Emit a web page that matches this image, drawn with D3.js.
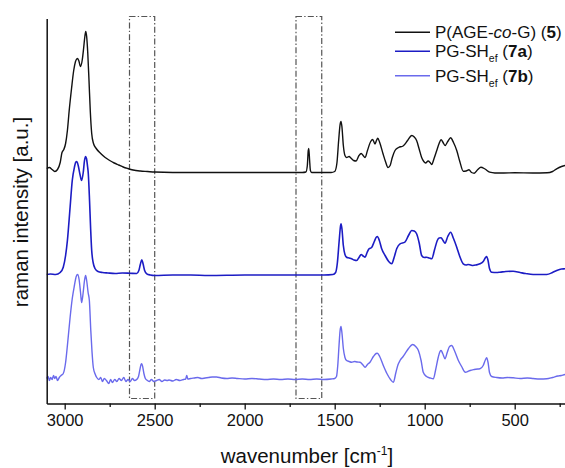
<!DOCTYPE html>
<html>
<head>
<meta charset="utf-8">
<script src="https://cdn.jsdelivr.net/npm/d3@7"></script>
<style>
  html, body { margin: 0; padding: 0; background: #fff; }
  svg { display: block; font-family: "Liberation Sans", Arial, sans-serif; }
</style>
</head>
<body>
<svg id="chart" width="565" height="468"></svg>
<script>
// Raman spectra, stacked with vertical offsets (intensity in a.u.)

// P(AGE-co-G) (5)
const wnAGE = [3100,3085,3070,3055,3040,3025,3015,3005,2995,2985,2975,2962,2950,2940,2930,2922,2912,2903,2895,2888,2883,2878,2872,2865,2858,2850,2840,2825,2800,2775,2750,2725,2700,2675,2650,2620,2580,2540,2500,2300,2000,1800,1680,1660,1652,1647,1644,1640,1635,1628,1560,1520,1500,1488,1478,1470,1465,1460,1452,1443,1434,1420,1410,1395,1381,1365,1353,1340,1331,1318,1300,1289,1276,1268,1261,1250,1232,1218,1204,1192,1180,1165,1145,1120,1095,1072,1058,1045,1030,1017,1005,995,981,970,961,948,933,920,909,898,887,872,856,840,822,805,786,770,754,740,725,705,688,665,639,610,560,500,400,320,290,267,240,220,200];
const intAGE = [235,236,234,232,234,241,251,254,260,273,293,315,333,342,345,343,337,343,355,367,372,367,351,323,293,270,260,255,250,246,243,240.5,238.5,236.5,235,233.5,232.5,232,231.5,231,231,231,231,231.5,238,253,255,245,233,231,231,231,232,240,263,279,282,277,258,248,246,247,245.5,243,242.5,248,250,247.5,246,253,262,264,259.5,263,265.3,261,250,242,236,238,246,253,256,257.5,263,268,266.5,263,254,246,242,240.5,242.5,241,239,245,253,260,263.7,261,258,262,265.7,261,253,242,232.3,232.5,233.7,231,230.3,234,236.3,234.5,231.3,230.5,230.5,230.7,230.5,230.7,232,234.7,237,238,238.5];

// PG-SH_ef (7a)
const wn7a = [3100,3080,3050,3025,3008,2995,2985,2970,2958,2946,2938,2933,2925,2915,2906,2897,2890,2884,2879,2873,2869,2862,2856,2850,2842,2832,2815,2790,2760,2720,2680,2640,2600,2588,2580,2572,2565,2556,2544,2525,2500,2400,2300,2200,2000,1800,1700,1560,1510,1495,1485,1475,1468,1465,1460,1452,1443,1434,1420,1406,1392,1378,1365,1353,1342,1331,1320,1309,1295,1280,1268,1263,1252,1239,1220,1200,1183,1170,1155,1137,1110,1090,1072,1058,1045,1030,1017,1003,989,975,961,945,930,920,909,898,887,872,856,840,822,805,786,770,759,745,732,715,693,675,662,656,648,640,628,600,582,550,509,470,440,398,360,322,290,267,240,220,200];
const int7a = [129,129.5,129,131,136.3,148,163,196.3,223,236.3,241.5,242,238,229,223,231,243,247,245,237,230,203,175,153,141,135,132,131,130.5,130,130.5,130.3,130,133,139,143.7,140,133,129.7,128.5,128,128.5,128.5,128,128.5,128.5,128.5,128.5,129,131,141,163,177,179.7,175,158,149,146.3,145.5,144.7,143.5,143,146,149,147.5,146.3,151,154.7,156,162,166.5,167,163,154.7,148,142,139.7,146,155,159.7,161.3,168,173,172.5,169.7,160,148,146,146.3,145.5,144.7,154,163,165.5,165.7,163,160.3,167,171.3,165,156.3,147,139.7,138.5,139,138.5,138,138.5,139.7,142,146,147,143,135,131.3,131,131.3,132,132.3,131,130,129,129,129,131,133,134.5,134.7,135];

// PG-SH_ef (7b)
const wn7b = [3100,3092,3085,3078,3070,3062,3055,3048,3040,3030,3020,3008,2995,2985,2970,2958,2946,2936,2928,2920,2912,2906,2898,2890,2884,2878,2870,2863,2855,2848,2841,2830,2822,2810,2800,2790,2780,2768,2755,2745,2735,2722,2710,2698,2685,2672,2660,2648,2636,2624,2612,2600,2590,2582,2576,2572,2567,2560,2552,2544,2530,2518,2505,2490,2475,2460,2445,2430,2420,2400,2380,2360,2340,2328,2322,2316,2300,2280,2260,2240,2220,2200,2180,2156,2130,2100,2070,2040,2000,1960,1920,1880,1840,1800,1760,1720,1680,1640,1600,1560,1520,1500,1490,1483,1476,1470,1465,1460,1452,1443,1434,1420,1406,1390,1375,1359,1345,1331,1318,1304,1285,1270,1263,1250,1230,1210,1190,1174,1160,1148,1137,1120,1110,1090,1067,1050,1035,1020,1008,990,970,952,940,925,915,909,900,887,875,862,850,835,813,795,774,760,748,725,705,693,675,662,656,648,640,628,600,570,540,509,470,430,398,360,322,290,260,241,220,200];
const int7b = [25,27,23,26,24,28,25,27,23,26,28,30,41,58,86,105,118,127,129,124,111,101,110,123,128,123,111,103,73,51,36,29,26,24,26,22,25,23,20,24,21,24,22,25,23,26,22,24,22,25,23,24,27,34,39,39.7,37,30,25,23.5,22,24,22,23,24,22,23.5,23,23.5,22.5,24,23,24,24.5,28,24.5,25,25.5,26,25,25.5,26,26.5,26.5,25.5,25,25.5,25,24.5,25,24.5,24,24.5,24,24.5,24,24.5,24,24.5,24,24.5,25,27,38,58,73,77,71,55,46,43,42,41.3,42,41.5,41.3,39,36.3,39,41.3,47,50,50.3,47,38,30,24,21.3,31,39,43,47,49.7,55,59,57,53,43,31.3,27,25.5,24.7,33,46,52,53,50,44.7,51,57,58,53,43,37,31.3,32,33,34,34.5,34.7,38,44,45.7,41,31,27,26,25.5,26,25.7,25,25.5,25,24.5,24.7,26,27.5,28,29,29];

const seriesNames = ["P(AGE-co-G) (5)", "PG-SH_ef (7a)", "PG-SH_ef (7b)"];
const seriesColors = ["#111111", "#1c1cc4", "#6a6aec"];

// Axis ticks (wavenumber, cm^-1)
const majorTicks = [3000, 2500, 2000, 1500, 1000, 500];
const minorTicks = [2750, 2250, 1750, 1250, 750, 250];

// Highlighted regions (S-H stretch and C=C stretch)
const bandStarts = [2640, 1715];
const bandEnds = [2500, 1572];

const svg = d3.select("#chart");

const x = d3.scaleLinear().domain([3100, 200]).range([46.7, 568.7]);
const y = d3.scaleLinear().domain([0, 385]).range([403.5, 18.5]);

const series = [
  { name: seriesNames[0], color: seriesColors[0], width: 1.4, pts: wnAGE.map((w, i) => ({ wn: w, v: intAGE[i] })) },
  { name: seriesNames[1], color: seriesColors[1], width: 1.6, pts: wn7a.map((w, i) => ({ wn: w, v: int7a[i] })) },
  { name: seriesNames[2], color: seriesColors[2], width: 1.4, pts: wn7b.map((w, i) => ({ wn: w, v: int7b[i] })) }
];

// dash-dot boxes around the diagnostic bands
svg.append("g").selectAll("rect")
  .data(bandStarts.map((s, i) => ({ s, e: bandEnds[i] })))
  .join("rect")
  .attr("x", d => x(d.s))
  .attr("y", y(387))
  .attr("width", d => x(d.e) - x(d.s))
  .attr("height", y(5) - y(387))
  .attr("fill", "none")
  .attr("stroke", "#555")
  .attr("stroke-width", 1.2)
  .attr("stroke-dasharray", "6,2.2,1.4,2.2");

const line = d3.line()
  .x(d => x(d.wn))
  .y(d => y(d.v))
  .curve(d3.curveMonotoneX);

svg.append("g").selectAll("path")
  .data(series)
  .join("path")
  .attr("d", d => line(d.pts))
  .attr("fill", "none")
  .attr("stroke", d => d.color)
  .attr("stroke-width", d => d.width)
  .attr("stroke-linejoin", "round");

// x axis: major ticks with labels, minor ticks without
const xAxis = svg.append("g")
  .attr("transform", `translate(0,${y(0)})`)
  .call(d3.axisBottom(x).tickValues(majorTicks).tickSize(6).tickSizeOuter(0).tickPadding(5).tickFormat(d3.format("d")));
xAxis.select(".domain").attr("stroke-width", 1.5).attr("stroke", "#111");
xAxis.selectAll(".tick line").attr("stroke-width", 1.3).attr("stroke", "#111");
xAxis.selectAll(".tick text").attr("font-size", "16.5px").attr("fill", "#111")
  .attr("font-family", "'Liberation Sans', Arial, sans-serif");

const xMinor = svg.append("g")
  .attr("transform", `translate(0,${y(0)})`)
  .call(d3.axisBottom(x).tickValues(minorTicks).tickSize(3.5).tickSizeOuter(0).tickFormat(""));
xMinor.select(".domain").remove();
xMinor.selectAll(".tick line").attr("stroke-width", 1.3).attr("stroke", "#111");

// y axis: plain line, no ticks
const yAxis = svg.append("g")
  .attr("transform", `translate(${x(3100)},0)`)
  .call(d3.axisLeft(y).tickValues([]).tickSizeOuter(0));
yAxis.select(".domain").attr("stroke-width", 1.5).attr("stroke", "#111");

// axis titles
const xTitle = svg.append("text")
  .attr("x", 307)
  .attr("y", 463)
  .attr("text-anchor", "middle")
  .attr("font-size", "20.5px")
  .attr("fill", "#111");
xTitle.append("tspan").text("wavenumber [cm");
xTitle.append("tspan").attr("font-size", "12px").attr("dy", -8).text("-1");
xTitle.append("tspan").attr("dy", 8).text("]");

svg.append("text")
  .attr("transform", "translate(28,212) rotate(-90)")
  .attr("text-anchor", "middle")
  .attr("font-size", "20.5px")
  .attr("fill", "#111")
  .text("raman intensity [a.u.]");

// legend
const legendBaselines = [38.3, 57.3, 81.7];
const legend = svg.append("g");
series.forEach((s, i) => {
  const b = legendBaselines[i];
  legend.append("line")
    .attr("x1", 395).attr("x2", 430)
    .attr("y1", b - 6).attr("y2", b - 6)
    .attr("stroke", s.color).attr("stroke-width", 1.5);
  const t = legend.append("text")
    .attr("x", 435).attr("y", b)
    .attr("font-size", "17px")
    .attr("fill", "#111");
  if (i === 0) {
    t.append("tspan").text("P(AGE-");
    t.append("tspan").attr("font-style", "italic").text("co");
    t.append("tspan").text("-G) (");
    t.append("tspan").attr("font-weight", "bold").text("5");
    t.append("tspan").text(")");
  } else {
    t.append("tspan").text("PG-SH");
    t.append("tspan").attr("font-size", "10.5px").attr("dy", 5).text("ef");
    t.append("tspan").attr("dy", -5).text(" (");
    t.append("tspan").attr("font-weight", "bold").text(i === 1 ? "7a" : "7b");
    t.append("tspan").text(")");
  }
});
</script>
</body>
</html>
